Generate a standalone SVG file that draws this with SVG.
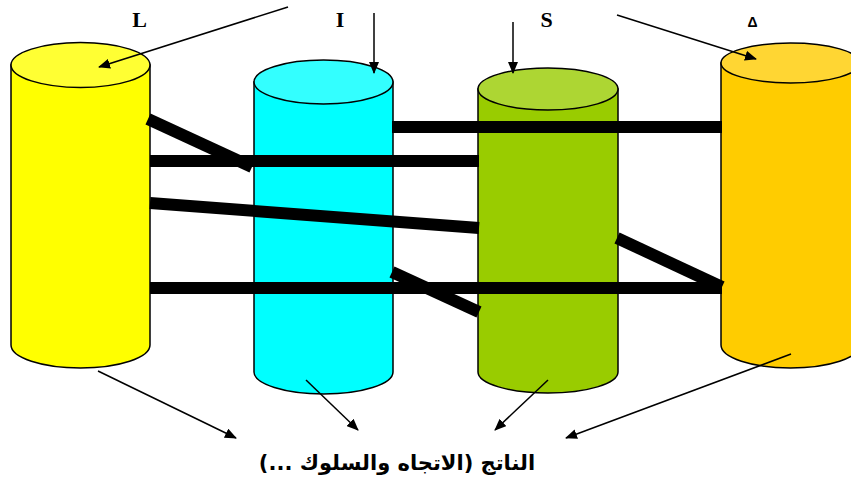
<svg xmlns="http://www.w3.org/2000/svg" width="851" height="485" viewBox="0 0 851 485">
<style>
.cyl{stroke:#000;stroke-width:1.5}
.bar{stroke:#000;stroke-width:12;stroke-linecap:butt;fill:none}
.arr{stroke:#000;stroke-width:1.5;fill:none;marker-end:url(#ah)}
.lbl{font-family:"Liberation Serif",serif;font-weight:bold;font-size:22px;text-anchor:middle;fill:#000}
.ar{font-family:"DejaVu Sans",sans-serif;font-weight:bold;font-size:21px;text-anchor:middle;fill:#000}
</style>
<defs>
<marker id="ah" markerWidth="12" markerHeight="10" refX="11" refY="5" orient="auto" markerUnits="userSpaceOnUse">
<path d="M0,0 L12,5 L0,10 Z" fill="#000"/>
</marker>
</defs>
<rect width="851" height="485" fill="#fff"/>
<g id="cyl-L">
<path class="cyl" fill="#FFFF00" d="M11,65 L11,345 A69.5,23 0 0 0 150,345 L150,65 Z"/>
<ellipse class="cyl" fill="#FFFF33" cx="80.5" cy="65" rx="69.5" ry="22.5"/>
</g>
<g id="cyl-I">
<path class="cyl" fill="#00FFFF" d="M254,82 L254,372 A69.5,22 0 0 0 393,372 L393,82 Z"/>
<ellipse class="cyl" fill="#33FFFF" cx="323.5" cy="82" rx="69.5" ry="22"/>
</g>
<g id="cyl-S">
<path class="cyl" fill="#99CC00" d="M478,89 L478,372 A70,21 0 0 0 618,372 L618,89 Z"/>
<ellipse class="cyl" fill="#ADD633" cx="548" cy="89" rx="70" ry="21"/>
</g>
<g id="cyl-D">
<path class="cyl" fill="#FFCC00" d="M721,63 L721,345 A69.5,23 0 0 0 860,345 L860,63 Z"/>
<ellipse class="cyl" fill="#FFD633" cx="790.5" cy="63" rx="69.5" ry="20"/>
</g>
<g id="connectors">
<line class="bar" x1="392" y1="127" x2="722" y2="127"/>
<line class="bar" x1="150" y1="161" x2="479" y2="161"/>
<line class="bar" x1="150" y1="203" x2="479" y2="228"/>
<line class="bar" x1="150" y1="288" x2="722" y2="288"/>
<line class="bar" x1="148" y1="119" x2="252" y2="167"/>
<line class="bar" x1="392" y1="272" x2="479" y2="312"/>
<line class="bar" x1="617" y1="238" x2="722" y2="287"/>
<line class="arr" x1="288" y1="7" x2="99" y2="67"/>
<line class="arr" x1="374" y1="13" x2="374" y2="73"/>
<line class="arr" x1="513" y1="22" x2="513" y2="73"/>
<line class="arr" x1="617" y1="15" x2="756" y2="59"/>
<line class="arr" x1="98" y1="371" x2="236" y2="438"/>
<line class="arr" x1="306" y1="380" x2="358" y2="430"/>
<line class="arr" x1="548" y1="380" x2="495" y2="430"/>
<line class="arr" x1="791" y1="354" x2="566" y2="438"/>
</g>
<g id="labels">
<text class="lbl" x="139.5" y="27">L</text>
<text class="lbl" x="340" y="27">I</text>
<text class="lbl" x="546.5" y="27">S</text>
<text x="752.5" y="27" font-family="Liberation Sans, sans-serif" font-weight="bold" font-size="14" text-anchor="middle">Δ</text>
<text class="ar" x="397" y="470" direction="rtl">الناتج (الاتجاه والسلوك ...)</text>
</g>
</svg>
